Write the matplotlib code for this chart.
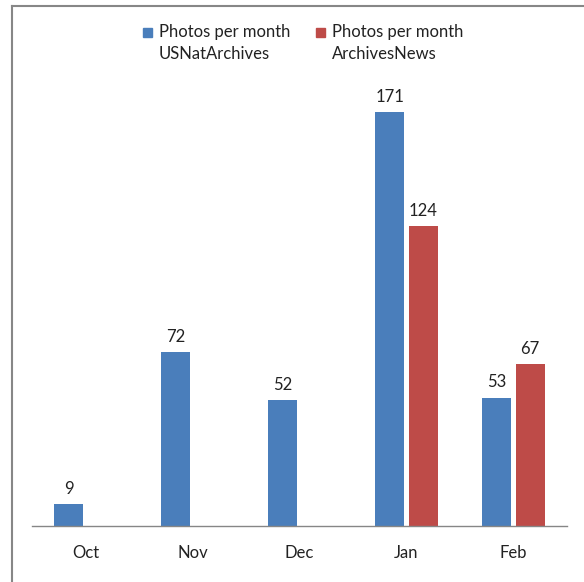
import matplotlib
matplotlib.use('Agg')
import matplotlib.pyplot as plt
from matplotlib.patches import Rectangle
import numpy as np

months = ['Oct', 'Nov', 'Dec', 'Jan', 'Feb']
usnat = [9, 72, 52, 171, 53]
archnews = [None, None, None, 124, 67]
labels = ['Photos per month\nUSNatArchives', 'Photos per month\nArchivesNews']

blue = '#4A7EBB'
red = '#BE4B48'

plt.rcParams['font.family'] = ['Lato', 'DejaVu Sans']

fig = plt.figure(figsize=(5.84, 5.82), dpi=100)
W, H = 584, 582
ax = fig.add_axes([32 / W, 56 / H, 535 / W, (526 - 90.4) / H])

x = np.arange(len(months))
bw = 0.27
off = 0.155
xb = x - off
b1 = ax.bar(xb, usnat, width=bw, color=blue)
xr = [xi + off for xi, v in zip(x, archnews) if v is not None]
vr = [v for v in archnews if v is not None]
b2 = ax.bar(xr, vr, width=bw, color=red)

for xi, v in zip(xb, usnat):
    ax.text(xi, v + 3, str(v), ha='center', va='bottom', fontsize=12, color='#222222')
for xi, v in zip(xr, vr):
    ax.text(xi, v + 3, str(v), ha='center', va='bottom', fontsize=12, color='#222222')

ax.set_xlim(-0.5, len(months) - 0.5)
ax.set_ylim(0, 180)
ax.set_xticks(x)
ax.set_xticklabels(months, fontsize=12, color='#222222')
ax.tick_params(axis='x', length=0, pad=14)
ax.set_yticks([])
for s in ['left', 'right', 'top']:
    ax.spines[s].set_visible(False)
ax.spines['bottom'].set_color('#868686')
ax.spines['bottom'].set_linewidth(1)

# legend drawn by hand so the swatch sits on the first line
for x0, col, lab in zip([143, 316], [blue, red], labels):
    fig.add_artist(Rectangle((x0 / W, 1 - 37 / H), 9 / W, 9 / H, color=col,
                             transform=fig.transFigure))
    fig.text((x0 + 16) / W, 1 - 24 / H, lab, ha='left', va='top', fontsize=12,
             color='#222222', linespacing=1.45)

# chart border (cut off at right/bottom)
fig.add_artist(plt.Line2D([11.5 / W, 11.5 / W], [0, 1 - 5.5 / H], color='#878787', lw=1.5))
fig.add_artist(plt.Line2D([11.5 / W, 1], [1 - 5.5 / H, 1 - 5.5 / H], color='#878787', lw=1.5))

fig.savefig('out.png', dpi=100)
